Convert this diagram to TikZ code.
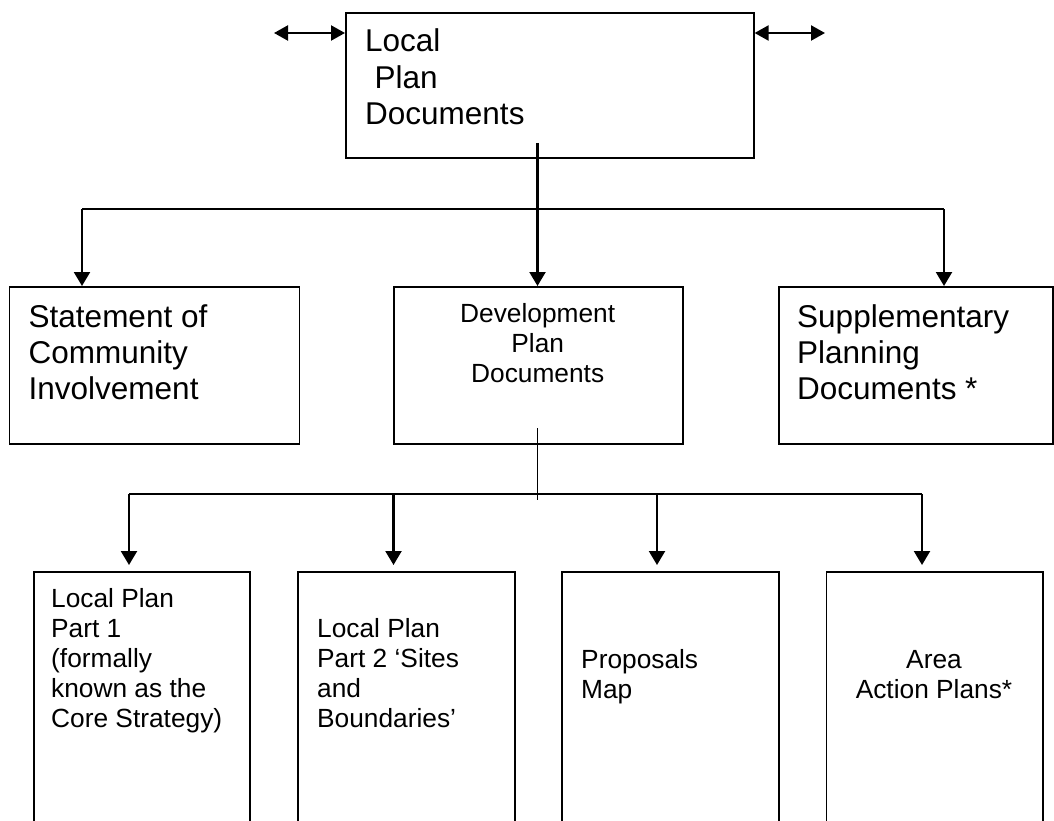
\documentclass[tikz,border=0pt]{standalone}
\usepackage{fontspec}
\setmainfont{Liberation Sans}
\usetikzlibrary{arrows.meta}
\begin{document}
\begin{tikzpicture}[x=1pt,y=-1pt,
  box/.style={draw, line width=1.6pt, inner sep=0pt, anchor=north west},
  big/.style={font=\fontsize{31.5}{36.3}\selectfont, align=left, inner sep=0pt, anchor=base west},
  small/.style={font=\fontsize{26.3}{30.2}\selectfont, align=left, inner sep=0pt, anchor=base west},
  smallc/.style={font=\fontsize{26.3}{30.2}\selectfont, align=center, inner sep=0pt, anchor=base},
  arr/.style={line width=2.2pt, -{Triangle[length=14pt,width=16pt]}},
  dbl/.style={line width=2.2pt, {Triangle[length=14pt,width=15pt]}-{Triangle[length=14pt,width=15pt]}},
  conn/.style={line width=1.6pt}]
\clip (0,0) rectangle (1054,821);
% boxes
\node[box, minimum width=408pt, minimum height=145pt] (lpd) at (345,12) {};
\node[box, minimum width=290pt, minimum height=157pt] (sci) at (8.5,286) {};
\node[box, minimum width=289pt, minimum height=157pt] (dpd) at (393,286) {};
\node[box, minimum width=274pt, minimum height=157pt] (spd) at (778,286) {};
\node[box, minimum width=216pt, minimum height=270pt] (b1) at (33,571) {};
\node[box, minimum width=217pt, minimum height=270pt] (b2) at (297,571) {};
\node[box, minimum width=217pt, minimum height=270pt] (b3) at (561,571) {};
\node[box, minimum width=216.5pt, minimum height=270pt] (b4) at (825.5,571) {};
% texts (anchor = baseline of the last line)
\node[big] (t0) at (365,124.6) {Local\\\hspace*{0.3em}Plan\\Documents};
\node[big] (t1) at (28.5,399.6) {Statement of\\Community\\Involvement};
\node[smallc] (t2) at (537.7,382.4) {Development\\Plan\\Documents};
\node[big] (t3) at (797,399.6) {Supplementary\\Planning\\Documents *};
\node[small] (t4) at (51,727.8) {Local Plan\\Part 1\\(formally\\known as the\\Core Strategy)};
\node[small] (t5) at (317,727.6) {Local Plan\\Part 2 ‘Sites\\and\\Boundaries’};
\node[small] (t6) at (581,698.2) {Proposals\\Map};
\node[smallc] (t7) at (934,698.2) {Area\\Action Plans*};
% top side arrows
\coordinate (la) at (274,33);
\coordinate (ra) at (825,33);
\draw[dbl] (la) -- (la -| lpd.west);
\draw[dbl] (la -| lpd.east) -- (ra);
% top to second row
\coordinate (j0) at (537.5,143);
\draw[arr] (j0) -- (j0 |- dpd.north);
\coordinate (h1w) at (82,209);
\coordinate (h1e) at (944,209);
\draw[conn] (h1w) -- (h1e);
\draw[arr] (h1w) -- (h1w |- sci.north);
\draw[arr] (h1e) -- (h1e |- spd.north);
% second to third row
\coordinate (j1) at (537.5,428);
\coordinate (j1e) at (537.5,500);
\draw[conn] (j1) -- (j1e);
\coordinate (h2w) at (129,494);
\coordinate (h2b) at (393.5,494);
\coordinate (h2c) at (657,494);
\coordinate (h2e) at (922,494);
\draw[conn] (h2w) -- (h2e);
\draw[arr] (h2w) -- ([yshift=6pt]h2w |- b1.north);
\draw[arr] (h2b) -- ([yshift=6pt]h2b |- b2.north);
\draw[arr] (h2c) -- ([yshift=6pt]h2c |- b3.north);
\draw[arr] (h2e) -- ([yshift=6pt]h2e |- b4.north);
\end{tikzpicture}
\end{document}
